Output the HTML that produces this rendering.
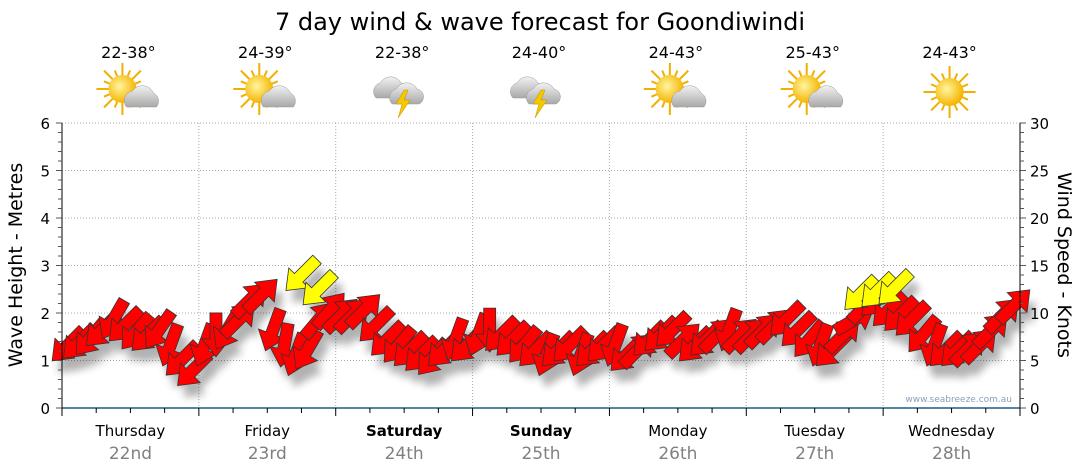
<!DOCTYPE html>
<html><head><meta charset="utf-8"><style>
html,body{margin:0;padding:0;background:#fff;}
svg{display:block;font-family:"DejaVu Sans","Liberation Sans",sans-serif;}
</style></head><body>
<svg id="chart" width="1080" height="475" viewBox="0 0 1080 475">
<defs>
<filter id="sh" x="-50%" y="-50%" width="200%" height="200%"><feGaussianBlur stdDeviation="4"/></filter>
<radialGradient id="sun" cx="0.4" cy="0.4" r="0.6"><stop offset="0" stop-color="#fff6a0"/><stop offset="1" stop-color="#f5b400"/></radialGradient>
<linearGradient id="cloud" x1="0" y1="0" x2="0" y2="1"><stop offset="0" stop-color="#f2f2f2"/><stop offset="1" stop-color="#a8a8a8"/></linearGradient>
</defs>
<text x="540" y="30" text-anchor="middle" font-size="24" fill="#000">7 day wind &amp; wave forecast for Goondiwindi</text>
<g id="grid"></g>
<g id="icons"></g>
<g id="shadows" filter="url(#sh)" opacity="0.3"></g>
<g id="arrows"></g>
<g id="axes"></g>
<text x="1012" y="402" text-anchor="end" font-size="9" fill="#8aa0b8">www.seabreeze.com.au</text>
<text transform="translate(22,265) rotate(-90)" text-anchor="middle" font-size="19">Wave Height - Metres</text>
<text transform="translate(1058,265) rotate(90)" text-anchor="middle" font-size="19">Wind Speed - Knots</text>
</svg>
<script>
const days=["Thursday","Friday","Saturday","Sunday","Monday","Tuesday","Wednesday"];
const dates=["22nd","23rd","24th","25th","26th","27th","28th"];
const boldDays=[false,false,true,true,false,false,false];
const temps=["22-38°","24-39°","22-38°","24-40°","24-43°","25-43°","24-43°"];
const icons=["partly","partly","storm","storm","partly","partly","sunny"];
const leftTicks=[0,1,2,3,4,5,6];
const rightTicks=[0,5,10,15,20,25,30];
// 2-hourly wind speed (knots) and arrow direction (deg, 0=pointing up, clockwise)
const windSpeed=[6.6,6.9,7.4,8.2,9.3,8.7,8.0,7.7,8.2,6.6,5.1,4.0,
 6.6,7.7,8.2,9.3,11.4,11.9,8.2,6.6,5.6,6.1,9.3,10.3,
 9.8,9.8,10.3,8.7,7.2,6.6,6.1,5.6,5.3,6.1,7.2,6.6,
 7.7,8.2,7.7,7.2,6.6,6.1,5.6,6.1,6.6,5.6,6.1,6.6,
 6.6,5.6,6.1,7.2,7.7,8.2,7.2,6.6,7.2,7.7,8.2,7.7,
 7.7,8.2,8.7,9.3,8.2,7.2,6.6,6.1,7.7,9.3,10.8,11.4,
 10.3,9.8,9.3,7.7,6.6,6.1,6.1,6.3,6.6,8.2,9.8,10.8];
const windDir=[225,225,220,225,210,225,220,225,215,200,225,225,
 200,180,210,45,45,45,200,190,200,210,40,40,
 45,45,45,225,225,220,225,225,220,225,200,225,
 200,180,225,225,220,225,200,225,225,200,225,225,
 200,225,45,225,225,225,45,225,225,45,200,45,
 45,45,45,225,225,220,200,225,45,60,45,225,
 225,225,225,220,200,225,225,45,45,45,45,45];
const gustHour=[42,45,140,143,146];
const gustSpeed=[14.0,12.5,12.0,12.3,12.6];

const L=62,R=1020,T=123,B=408;
const dayW=(R-L)/7;
const xH=h=>L+h/24*dayW;
const yM=m=>B-(B-T)*m/6;
const yK=k=>B-(B-T)*k/30;
const NS="http://www.w3.org/2000/svg";
function mk(parent,tag,attrs){const e=document.createElementNS(NS,tag);for(const k in attrs)e.setAttribute(k,attrs[k]);document.getElementById(parent).appendChild(e);return e;}

for(let i=1;i<=6;i++){
  const g=mk("grid","line",{x1:L,x2:R,y1:yM(i),y2:yM(i),stroke:"#aaa","stroke-dasharray":"1,2"});
  
  
}
for(let d=1;d<7;d++){
  const g=mk("grid","line",{x1:L+d*dayW,x2:L+d*dayW,y1:T,y2:B,stroke:"#aaa","stroke-dasharray":"1,2"});
  
  
}
let a=mk("axes","line",{x1:L,x2:R,y1:B,y2:B,stroke:"#1f5d86","stroke-width":1.5});

a=mk("axes","line",{x1:L,x2:L,y1:T,y2:B+1,stroke:"#000"});

a=mk("axes","line",{x1:R,x2:R,y1:T,y2:B+1,stroke:"#000"});

for(let i=0;i<=30;i++){
  const y=B-(B-T)*i/30, big=i%5==0;
  mk("axes","line",{x1:L-(big?6:4),x2:L,y1:y,y2:y,stroke:"#555"});
  mk("axes","line",{x1:R,x2:R+(big?6:4),y1:y,y2:y,stroke:"#555"});
}
leftTicks.forEach(v=>{const t=mk("axes","text",{x:L-12,y:yM(v)+6,"text-anchor":"end","font-size":15});t.textContent=v;
  });
rightTicks.forEach(v=>{const t=mk("axes","text",{x:R+10,y:yK(v)+6,"font-size":15});t.textContent=v;
  });
for(let i=0;i<=28;i++){
  const x=L+i*dayW/4, big=i%4==0;
  mk("axes","line",{x1:x,x2:x,y1:B,y2:B+(big?8:5),stroke:"#000"});
}
days.forEach((d,i)=>{
  const cx=L+(i+0.5)*dayW;
  let t=mk("axes","text",{x:cx,y:436,"text-anchor":"middle","font-size":15,"font-weight":boldDays[i]?"bold":"normal"});t.textContent=d;
  
  t=mk("axes","text",{x:cx,y:459,"text-anchor":"middle","font-size":17,fill:"#808080"});t.textContent=dates[i];
  
  t=mk("icons","text",{x:cx-2,y:58,"text-anchor":"middle","font-size":16});t.textContent=temps[i];
  
  const g=mk("icons","g",{transform:`translate(${cx-2},92)`});
  
  const add=(tag,at)=>{const e=document.createElementNS(NS,tag);for(const k in at)e.setAttribute(k,at[k]);g.appendChild(e);};
  if(icons[i]!="storm"){
    const sx=icons[i]=="sunny"?0:-6, sy=icons[i]=="sunny"?0:-3;
    for(let r=0;r<16;r++){const an=r*Math.PI/8, l=r%2?20:26;
      add("line",{x1:sx+Math.cos(an)*10,y1:sy+Math.sin(an)*10,x2:sx+Math.cos(an)*l,y2:sy+Math.sin(an)*l,stroke:"#f0b000","stroke-width":2});}
    add("circle",{cx:sx,cy:sy,r:14,fill:"url(#sun)"});
  }
  if(icons[i]=="partly"){
    add("path",{d:"M-2,15 a10,10 0 0 1 6,-16 a12,12 0 0 1 21,2 a9,9 0 0 1 3,14 z",fill:"url(#cloud)",stroke:"#999","stroke-width":0.5});
  }
  if(icons[i]=="storm"){
    add("path",{d:"M-26,6 a9,9 0 0 1 4,-15 a12,12 0 0 1 21,0 a8,8 0 0 1 2,15 z",fill:"url(#cloud)",stroke:"#999","stroke-width":0.5});
    add("path",{d:"M-10,12 a9,9 0 0 1 4,-15 a12,12 0 0 1 21,0 a8,8 0 0 1 2,15 z",fill:"url(#cloud)",stroke:"#999","stroke-width":0.5});
    add("path",{d:"M2,-2 L-6,12 L0,12 L-4,26 L8,8 L2,8 L6,-2 z",fill:"#f6c800",stroke:"#c09000","stroke-width":0.5});
  }
});
const arrowPts="0,-22 14,-4 6,-4 6,22 -6,22 -6,-4 -14,-4";
function drawArrow(x,y,dir,fill,name){
  const s=mk("shadows","polygon",{points:arrowPts,transform:`translate(${x+6},${y+12}) rotate(${dir})`,fill:"#000"});
  
  const p=mk("arrows","polygon",{points:arrowPts,transform:`translate(${x},${y}) rotate(${dir})`,fill:fill,stroke:"#333","stroke-width":0.8});
  
}
windSpeed.forEach((v,i)=>drawArrow(xH(i*2+1),yK(v),windDir[i],"#ff0000","wind-arrow"));
gustHour.forEach((h,i)=>drawArrow(xH(h),yK(gustSpeed[i]),225,"#ffff00","gust-arrow"));
</script>
</body></html>
